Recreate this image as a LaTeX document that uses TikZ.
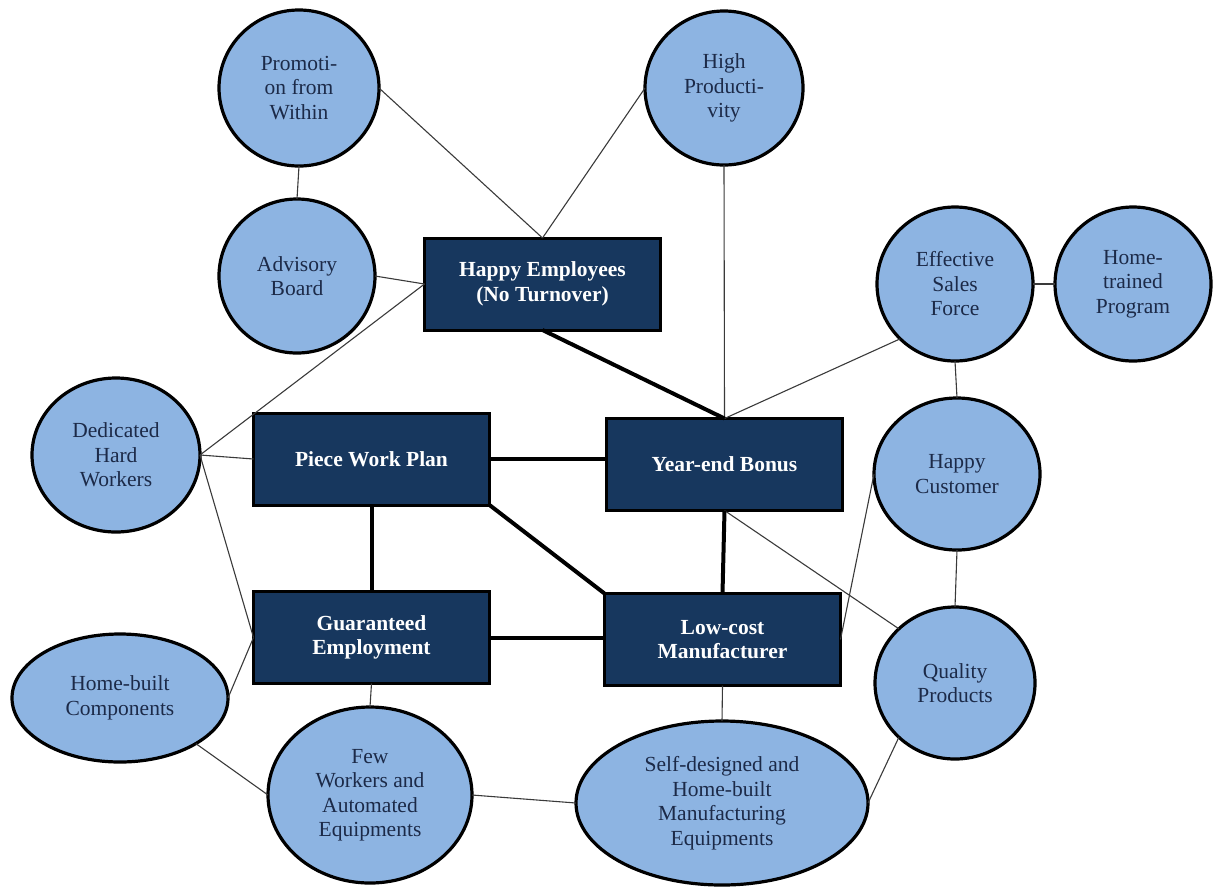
\documentclass[tikz,border=0pt]{standalone}
\usepackage{fontspec}
\setmainfont{Liberation Serif}
\newfontfamily\tnr{Liberation Serif}
\usetikzlibrary{shapes.geometric}
\definecolor{ellfill}{HTML}{8DB4E2}
\definecolor{boxfill}{HTML}{17375E}
\definecolor{elltext}{HTML}{1C2A48}
\definecolor{thinline}{HTML}{3A3A3A}
\tikzset{
  ell/.style={ellipse, draw=black, line width=3.2pt, fill=ellfill, inner sep=0pt, outer sep=0pt,
    align=center, text=elltext, font=\tnr\fontsize{21.5}{24.5}\selectfont},
  keybox/.style={rectangle, draw=black, line width=3pt, fill=boxfill, inner sep=0pt, outer sep=0pt,
    minimum width=236pt, minimum height=92pt, align=center, text=white,
    font=\tnr\fontsize{21.5}{24.5}\selectfont\bfseries},
  thin/.style={draw=thinline, line width=1.1pt},
  thick/.style={draw=black, line width=4pt}
}
\begin{document}
\begin{tikzpicture}[x=1pt,y=-1pt]
\useasboundingbox (0,0) rectangle (1214,887);
% key boxes
\node[keybox] (he) at (542.5,284) {Happy Employees\\(No Turnover)};
\node[keybox] (pw) at (371.5,459) {Piece Work Plan};
\node[keybox] (yb) at (724.5,464.5) {Year-end Bonus};
\node[keybox] (ge) at (371.5,637.5) {Guaranteed\\Employment};
\node[keybox] (lc) at (722.5,639.5) {Low-cost\\Manufacturer};
% ellipses
\node[ell, minimum width=160pt, minimum height=156pt] (pr) at (299,88) {Promoti-\\on from\\Within};
\node[ell, minimum width=156pt, minimum height=154pt] (ab) at (297,276) {Advisory\\Board};
\node[ell, minimum width=158pt, minimum height=154pt] (hp) at (724,88) {High\\Producti-\\vity};
\node[ell, minimum width=156pt, minimum height=154pt] (es) at (955,284) {Effective\\Sales\\Force};
\node[ell, minimum width=156pt, minimum height=154pt] (ht) at (1133,284) {Home-\\trained\\Program};
\node[ell, minimum width=168pt, minimum height=154pt] (dh) at (116,455) {Dedicated\\Hard\\Workers};
\node[ell, minimum width=166pt, minimum height=152pt] (hc) at (957,474) {Happy\\Customer};
\node[ell, minimum width=160pt, minimum height=152pt] (qp) at (955,683) {Quality\\Products};
\node[ell, minimum width=216pt, minimum height=128pt] (hb) at (120,698) {Home-built\\Components};
\node[ell, minimum width=204pt, minimum height=176pt] (fw) at (370,795) {Few\\Workers and\\Automated\\Equipments};
\node[ell, minimum width=292pt, minimum height=164pt] (sd) at (722,803) {Self-designed and\\Home-built\\Manufacturing\\Equipments};
% thin connectors
\draw[thin] (pr.south) -- (ab.north);
\draw[thin] (pr.east) -- (he.north);
\draw[thin] (hp.west) -- (he.north);
\draw[thin] (ab.east) -- (he.west);
\draw[thin] (dh.east) -- (he.west);
\draw[thin] (dh.east) -- (pw.west);
\draw[thin] (dh.east) -- (ge.west);
\draw[thin] (hb.east) -- (ge.west);
\draw[thin] (hb.-31) -- (fw.west);
\draw[thin] (ge.south) -- (fw.north);
\draw[thin] (fw.east) -- (sd.west);
\draw[thin] (lc.south) -- (sd.north);
\draw[thin] (sd.east) -- (qp.-136);
\draw[thin] (yb.south) -- (qp.136);
\draw[thin] (lc.east) -- (hc.west);
\draw[thin] (hp.south) -- (yb.north);
\draw[thin] (es.-135) -- (yb.north);
\draw[thin] (es.east) -- (ht.west);
\draw[thin] (es.south) -- (hc.north);
\draw[thin] (hc.south) -- (qp.north);
% thick connectors
\draw[thick] (he.south) -- (yb.north);
\draw[thick] (pw.east) -- (pw.east -| yb.west);
\draw[thick] (pw.south) -- (ge.north);
\draw[thick] (pw.south east) -- (lc.north west);
\draw[thick] (ge.east) -- (ge.east -| lc.west);
\draw[thick] (yb.south) -- (lc.north);
\end{tikzpicture}
\end{document}
